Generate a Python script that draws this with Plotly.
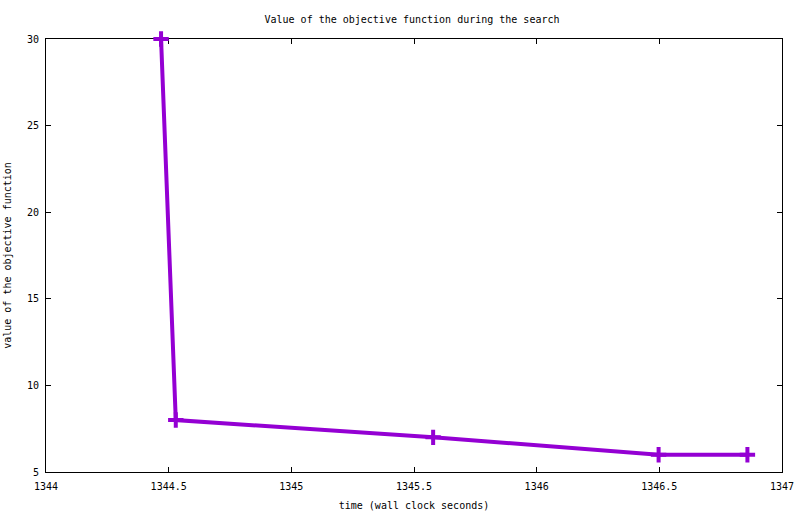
import plotly.graph_objects as go

# wall clock time (s) and objective value at each improvement
time_s = [1344.469, 1344.529, 1345.578, 1346.497, 1346.859]
objective = [30, 8, 7, 6, 6]

x_ticks = [1344, 1344.5, 1345, 1345.5, 1346, 1346.5, 1347]
x_labels = ["1344", "1344.5", "1345", "1345.5", "1346", "1346.5", "1347"]
y_ticks = [5, 10, 15, 20, 25, 30]

mono = "DejaVu Sans Mono"
purple = "#9400D3"

fig = go.Figure()
fig.add_trace(
    go.Scatter(
        x=time_s,
        y=objective,
        mode="lines+markers",
        line=dict(color=purple, width=4),
        marker=dict(symbol="cross-thin", size=11, line=dict(color=purple, width=4)),
        cliponaxis=False,
        showlegend=False,
    )
)

axis_common = dict(
    showline=True,
    linecolor="black",
    linewidth=1,
    mirror="ticks",
    ticks="inside",
    ticklen=5,
    tickcolor="black",
    showgrid=False,
    zeroline=False,
    automargin=False,
    layer="below traces",
    tickfont=dict(family=mono, size=10, color="black"),
)

fig.update_layout(
    width=800,
    height=514,
    paper_bgcolor="white",
    plot_bgcolor="white",
    margin=dict(l=46, r=18, t=39, b=42),
    title=dict(
        text="Value of the objective function during the search",
        x=0.515,
        xanchor="center",
        y=0.963,
        yanchor="middle",
        font=dict(family=mono, size=10, color="black"),
    ),
    xaxis=dict(
        range=[1344, 1347],
        tickvals=x_ticks,
        ticktext=x_labels,
        ticklabelstandoff=5,
        title=dict(text="time (wall clock seconds)", standoff=10,
                   font=dict(family=mono, size=10, color="black")),
        **axis_common,
    ),
    yaxis=dict(
        range=[5, 30],
        tickvals=y_ticks,
        ticklabelstandoff=4,
        title=dict(text="value of the objective function", standoff=13,
                   font=dict(family=mono, size=10, color="black")),
        **axis_common,
    ),
)

# drop the browser's default body margin so the figure sits at the page corner
fig.write_html(
    "out.html",
    config={"displayModeBar": False},
    post_script="document.body.style.margin='0';",
)
